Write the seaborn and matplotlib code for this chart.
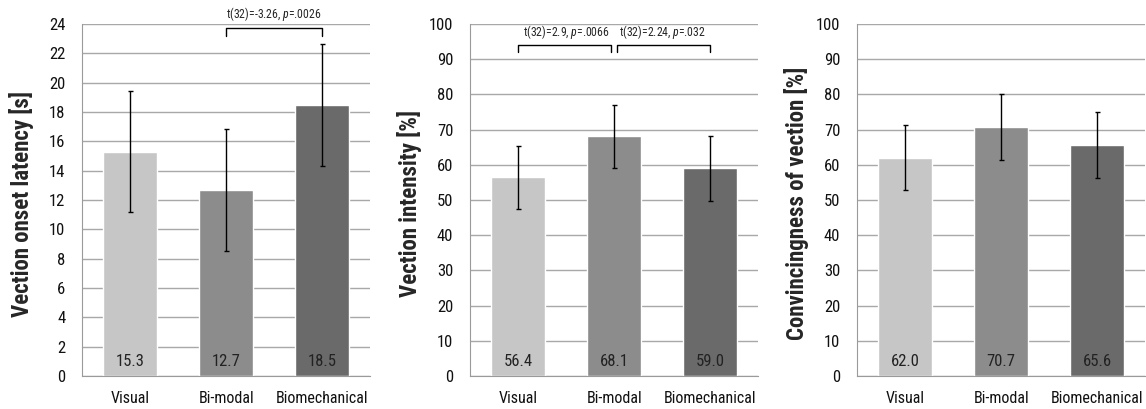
import matplotlib
matplotlib.use("Agg")
import matplotlib.pyplot as plt
import seaborn as sns
import pandas as pd
import numpy as np

categories = ["Visual", "Bi-modal", "Biomechanical"]
colors = ["#c6c6c6", "#8c8c8c", "#6a6a6a"]

latency_mean = [15.3, 12.7, 18.5]
latency_sd = [4.15, 4.15, 4.15]
intensity_mean = [56.4, 68.1, 59.0]
intensity_sd = [9.05, 9.0, 9.15]
convincing_mean = [62.0, 70.7, 65.6]
convincing_sd = [9.3, 9.45, 9.4]

ylabels = ["Vection onset latency [s]", "Vection intensity [%]", "Convincingness of vection [%]"]
ymax = [24, 100, 100]
ystep = [2, 10, 10]

# brackets: (from category, to category, bracket y, leg y, text)
brackets = [
    [(1, 2, 23.75, 23.2, r"t(32)=-3.26, $\it{p}$=.0026")],
    [(0, 1, 94.0, 92.0, r"t(32)=2.9, $\it{p}$=.0066"),
     (1, 2, 94.0, 92.0, r"t(32)=2.24, $\it{p}$=.032")],
    [],
]

sns.set_style("white")
plt.rcParams["font.family"] = ["Roboto Condensed", "Liberation Sans", "DejaVu Sans"]
plt.rcParams["mathtext.fontset"] = "custom"
plt.rcParams["mathtext.it"] = "Roboto Condensed:italic"
plt.rcParams["mathtext.rm"] = "Roboto Condensed"

fig = plt.figure(figsize=(11.46, 4.09), dpi=100)
lefts = [0.0716, 0.4101, 0.7478]
width = 0.2515
bottom, top = 0.0807, 0.9413

means = [latency_mean, intensity_mean, convincing_mean]
sds = [latency_sd, intensity_sd, convincing_sd]
axis_grey = "#9a9a9a"

for i in range(3):
    ax = fig.add_axes([lefts[i], bottom, width, top - bottom])
    df = pd.DataFrame({"cat": categories, "val": means[i]})
    sns.barplot(data=df, x="cat", y="val", hue="cat", palette=colors,
                width=0.5625, errorbar=None, legend=False, ax=ax, saturation=1)
    ax.errorbar(range(3), means[i], yerr=sds[i], fmt="none", ecolor="black",
                elinewidth=1.0, capsize=1.8, capthick=1.0, zorder=5)
    ax.set_ylim(0, ymax[i])
    ax.set_xlim(-0.5, 2.5)
    ax.set_yticks(np.arange(0, ymax[i] + 0.1, ystep[i]))
    ax.yaxis.grid(True, color="#a8a8a8", linewidth=1.0)
    ax.set_axisbelow(True)
    for s in ["top", "right"]:
        ax.spines[s].set_visible(False)
    ax.spines["left"].set_color(axis_grey)
    ax.spines["bottom"].set_color(axis_grey)
    ax.tick_params(axis="y", length=4, color=axis_grey, labelsize=12, pad=8, labelcolor="#111111")
    ax.set_xticks([-0.5, 0.5, 1.5, 2.5], minor=True)
    ax.tick_params(axis="x", which="minor", length=5, color=axis_grey, direction="out")
    ax.tick_params(axis="x", which="major", length=0, labelsize=11.5, pad=11, labelcolor="#111111")
    ax.set_xlabel("")
    ax.set_ylabel(ylabels[i], fontsize=16.5, fontweight="bold")
    ax.yaxis.set_label_coords(-0.165, 0.49)
    for j, v in enumerate(means[i]):
        ax.text(j, ymax[i] * 0.04, f"{v:.1f}", ha="center", va="center", fontsize=12, color="#222222")
    for (a, b, yb, yl, txt) in brackets[i]:
        off = 0.03 if len(brackets[i]) > 1 else 0.0
        xa = a + (off if a == 1 else 0)
        xb = b - (off if b == 1 else 0)
        ax.plot([xa, xa, xb, xb], [yl, yb, yb, yl], color="black", linewidth=1.0, clip_on=False, zorder=6)
        ax.text((a + b) / 2, yb + ymax[i] * 0.012, txt, ha="center", va="bottom", fontsize=8.5, clip_on=False)

fig.savefig("out.png", dpi=100)
